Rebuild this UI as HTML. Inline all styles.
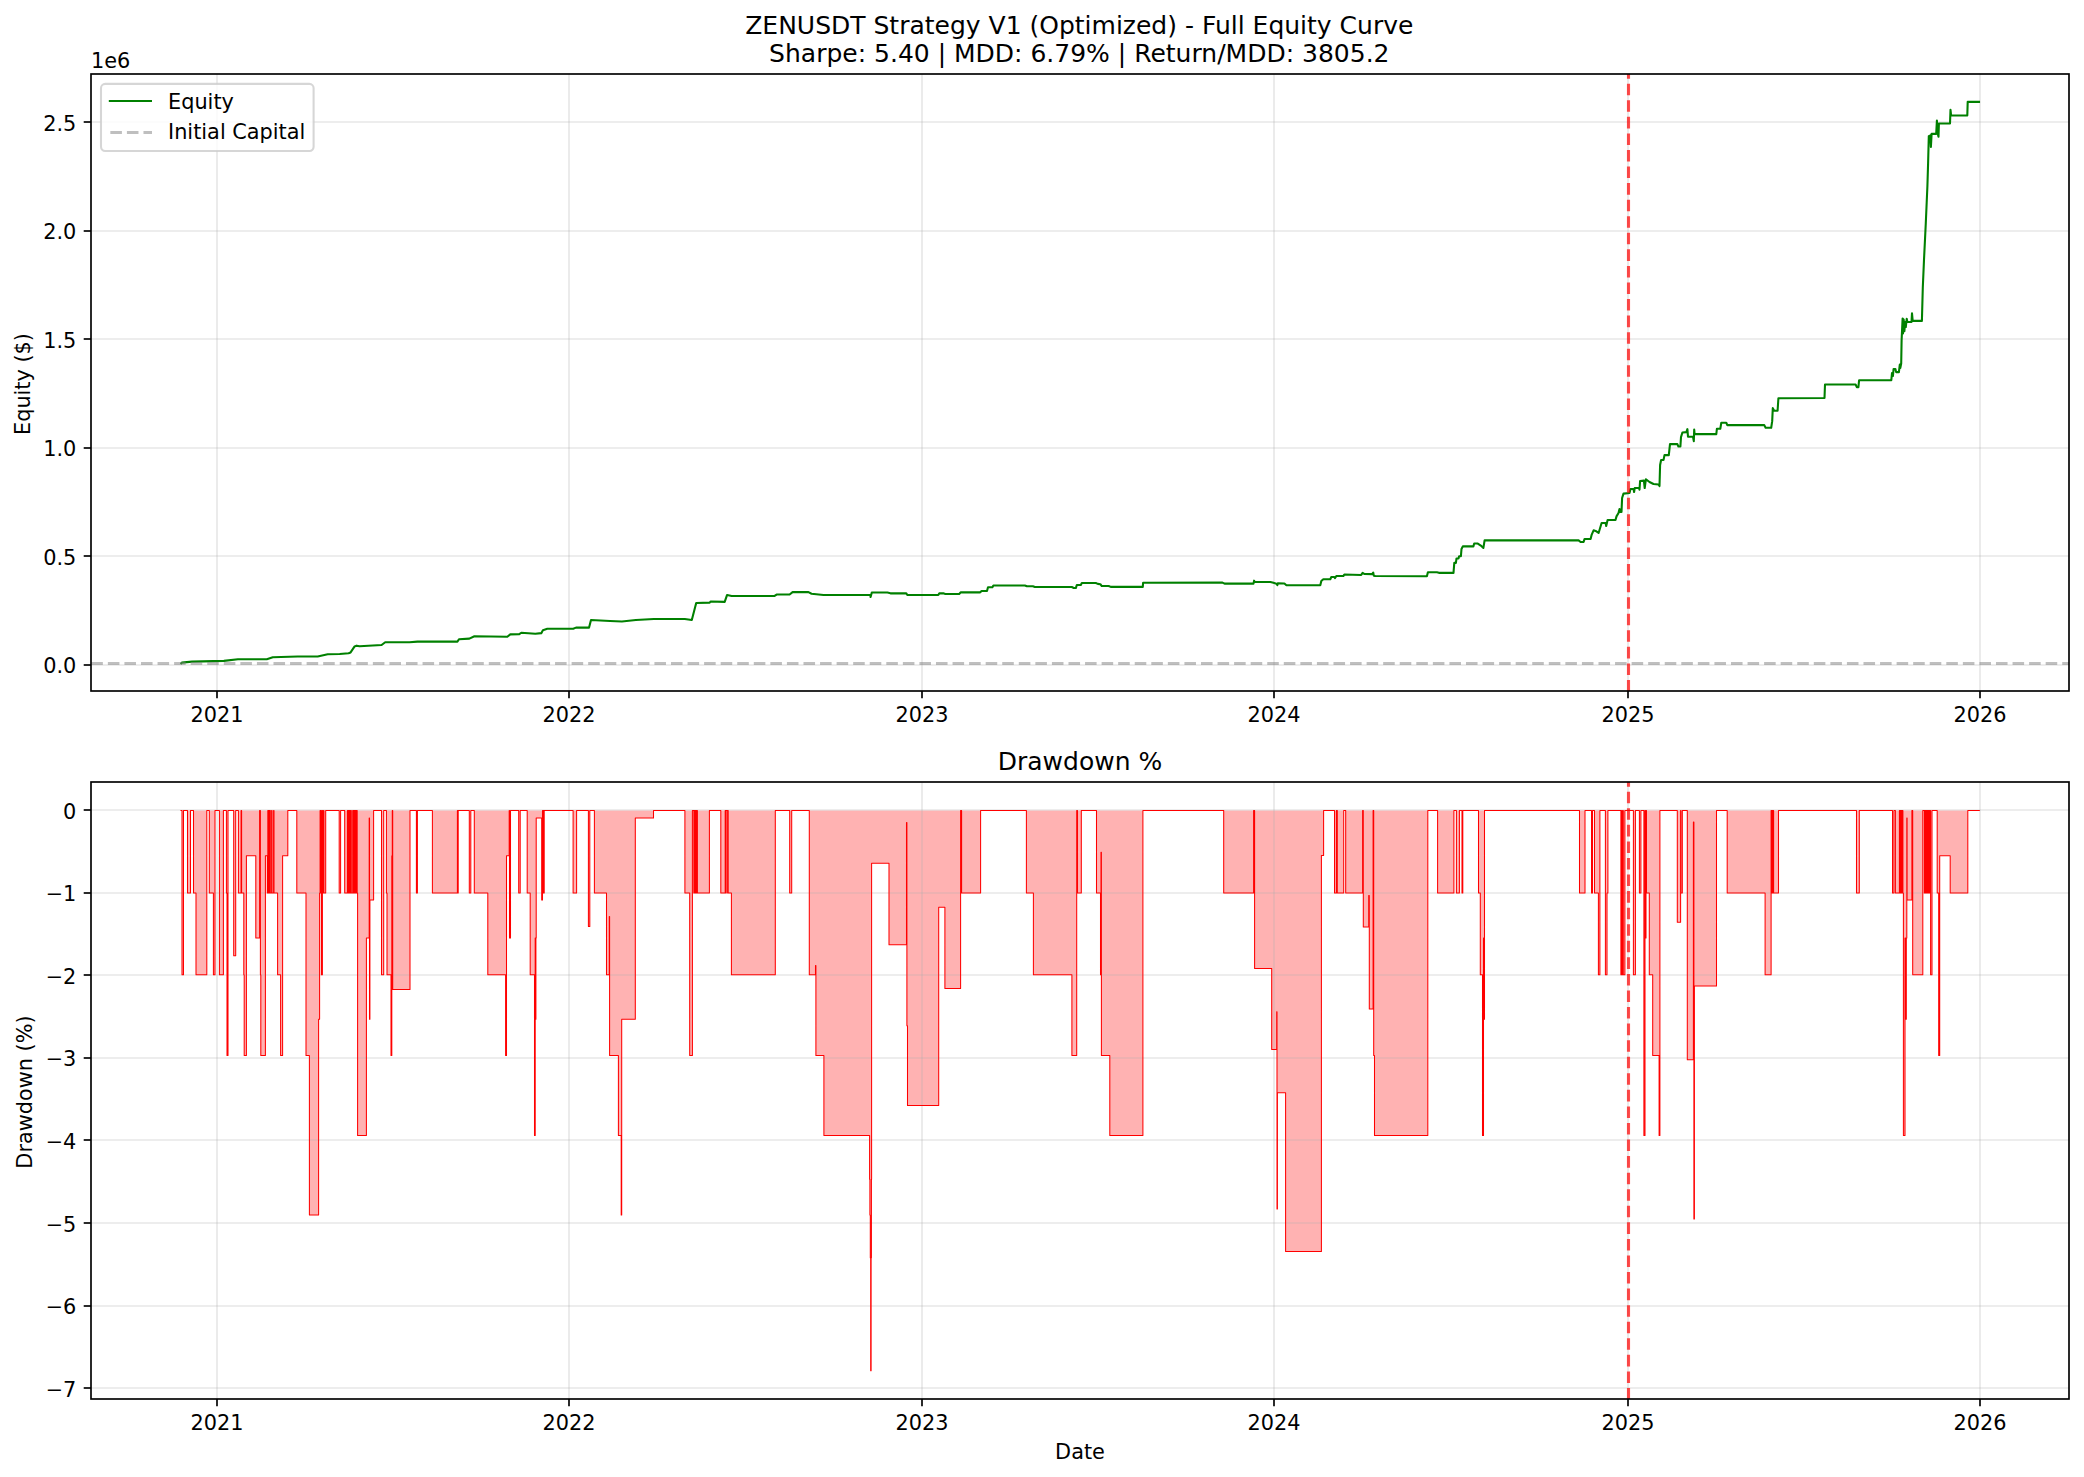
<!DOCTYPE html>
<html lang="en"><head><meta charset="utf-8"><title>ZENUSDT Strategy V1 (Optimized) - Full Equity Curve</title>
<style>html,body{margin:0;padding:0;background:#fff}svg{display:block}text{font-family:"DejaVu Sans","Liberation Sans",sans-serif;fill:#000}.t{font-size:20.833px}.T{font-size:25.000px}.g{stroke:#b0b0b0;stroke-opacity:.3;stroke-width:1.667}.k{stroke:#000;stroke-width:1.667}.m{text-anchor:middle}.e{text-anchor:end}</style></head><body>
<svg width="2084" height="1477" viewBox="0 0 2084 1477">
<rect width="2084" height="1477" fill="#fff"/>
<defs><clipPath id="c1"><rect x="91" y="74" width="1978" height="617"/></clipPath><clipPath id="c2"><rect x="91" y="782" width="1978" height="617"/></clipPath></defs>
<g id="ax1">
<line class="g" x1="217" y1="691" x2="217" y2="74"/>
<line class="g" x1="569" y1="691" x2="569" y2="74"/>
<line class="g" x1="922" y1="691" x2="922" y2="74"/>
<line class="g" x1="1274" y1="691" x2="1274" y2="74"/>
<line class="g" x1="1628" y1="691" x2="1628" y2="74"/>
<line class="g" x1="1980" y1="691" x2="1980" y2="74"/>
<line class="g" x1="91" y1="665" x2="2069" y2="665"/>
<line class="g" x1="91" y1="556" x2="2069" y2="556"/>
<line class="g" x1="91" y1="448" x2="2069" y2="448"/>
<line class="g" x1="91" y1="339" x2="2069" y2="339"/>
<line class="g" x1="91" y1="231" x2="2069" y2="231"/>
<line class="g" x1="91" y1="122" x2="2069" y2="122"/>
<g clip-path="url(#c1)">
<polyline fill="none" stroke="#008000" stroke-width="2.083" stroke-linejoin="round" stroke-linecap="square" points="181.3,663.25 181.8,662.65 192.0,661.65 223.9,660.85 237.9,659.25 266.8,659.25 272.8,657.25 297.7,656.45 317.7,656.45 327.7,654.25 339.7,654.05 348.6,653.25 350.6,652.45 354.6,646.45 356.6,645.65 359.6,646.25 381.6,645.05 385.2,642.25 409.5,642.25 417.5,641.65 457.4,641.65 459.0,639.25 469.4,638.65 474.4,636.25 507.3,636.75 510.3,634.35 519.3,634.15 521.3,632.75 535.3,633.75 541.3,633.15 542.9,630.15 547.3,628.75 573.2,628.75 576.0,627.65 589.0,627.65 591.0,620.05 610.0,621.05 621.9,621.45 635.9,620.05 653.8,619.05 684.8,619.05 691.8,620.05 696.2,603.05 709.7,602.65 710.7,601.45 724.7,601.85 727.1,594.95 731.7,595.95 774.6,595.95 776.6,594.55 789.6,594.55 792.6,592.15 808.5,592.15 811.5,593.75 823.5,594.95 870.4,594.95 870.6,597.05 871.8,592.55 887.4,592.55 890.4,593.35 906.3,593.35 907.3,594.95 938.3,594.95 939.3,593.35 943.3,593.35 945.3,593.95 959.2,593.95 960.8,592.35 980.2,592.35 981.6,590.95 987.0,591.05 988.0,587.25 992.4,587.25 993.4,585.45 1024.9,585.45 1026.9,586.25 1032.9,586.25 1034.9,587.05 1071.8,587.05 1073.8,588.05 1075.8,588.05 1076.8,585.05 1080.8,585.05 1081.8,583.05 1095.8,583.05 1097.8,583.85 1100.4,584.25 1101.8,586.05 1108.7,586.05 1110.7,586.85 1142.8,586.85 1143.1,582.75 1222.5,582.65 1224.5,583.65 1253.5,583.65 1254.1,580.65 1254.7,582.05 1270.4,582.05 1273.4,582.85 1276.4,583.65 1277.4,585.05 1277.8,583.25 1284.4,583.45 1286.4,585.25 1320.3,585.25 1321.3,581.05 1323.3,579.25 1330.3,579.25 1331.3,577.05 1334.3,577.05 1334.9,578.05 1336.3,576.05 1343.3,576.05 1344.3,574.55 1361.2,574.95 1362.6,572.95 1364.2,573.95 1372.2,574.15 1373.2,572.55 1373.8,575.65 1375.2,576.05 1426.9,576.25 1427.9,572.25 1436.9,572.25 1438.9,572.85 1453.5,572.85 1454.3,562.85 1455.9,562.85 1456.5,558.45 1458.5,558.45 1459.1,556.25 1460.9,556.25 1461.5,548.95 1462.9,546.35 1473.4,546.35 1474.2,543.55 1477.8,543.55 1480.8,545.55 1483.4,547.95 1484.6,540.35 1578.6,540.35 1580.6,541.95 1583.6,541.95 1584.6,538.95 1590.6,538.95 1591.6,534.95 1593.6,530.35 1595.6,530.95 1598.6,532.95 1601.6,522.95 1605.6,522.95 1606.2,525.95 1607.6,519.95 1615.5,519.95 1616.5,516.35 1618.5,512.95 1619.5,508.95 1620.1,511.95 1621.5,511.95 1622.1,498.05 1623.5,493.65 1629.5,493.05 1630.5,489.05 1633.5,489.05 1634.1,492.05 1634.7,488.05 1639.1,488.05 1639.5,489.65 1640.1,481.05 1643.9,480.65 1644.7,488.05 1645.9,479.25 1649.5,482.05 1653.5,484.05 1658.5,484.45 1659.5,486.05 1660.1,465.05 1661.1,460.05 1663.5,460.05 1664.5,455.15 1668.8,455.15 1670.0,444.15 1677.4,444.15 1678.4,446.55 1680.4,446.55 1681.0,437.15 1682.4,432.55 1686.4,432.15 1687.4,429.15 1688.0,436.75 1693.0,436.75 1693.8,441.15 1694.2,429.55 1694.6,434.15 1716.3,434.15 1716.9,428.75 1720.3,428.75 1721.3,422.75 1726.3,422.75 1727.3,425.15 1764.3,425.15 1765.6,427.75 1771.2,427.75 1772.2,421.15 1772.8,408.15 1774.2,410.75 1777.6,410.75 1778.4,398.25 1824.5,397.95 1825.0,384.55 1855.6,384.55 1856.8,387.15 1858.4,387.15 1859.1,380.25 1891.3,380.25 1892.0,373.05 1892.9,376.05 1893.6,368.95 1895.4,368.95 1896.1,372.15 1898.9,372.15 1899.8,364.55 1900.3,368.05 1901.2,363.45 1901.6,340.35 1902.6,318.55 1903.0,333.45 1903.7,319.65 1904.4,331.15 1905.1,321.95 1905.8,327.05 1906.7,318.75 1907.4,321.95 1911.5,321.95 1912.0,313.25 1912.7,320.85 1921.9,320.85 1922.8,287.45 1924.0,259.85 1925.8,222.95 1926.7,202.25 1927.4,186.15 1928.1,163.15 1928.8,136.15 1930.4,135.45 1930.9,147.05 1931.6,133.85 1936.2,133.85 1936.9,120.55 1937.8,133.65 1938.5,136.65 1938.9,123.55 1950.0,123.55 1950.5,109.75 1951.1,115.45 1967.3,115.45 1967.7,101.85 1979.0,101.85"/>
<line x1="91.3" y1="663.5" x2="2069" y2="663.5" stroke="#808080" stroke-opacity=".5" stroke-width="3.125" stroke-dasharray="11.5625 5.0000"/>
<line x1="1628.5" y1="691.5" x2="1628.5" y2="74" stroke="#ff0000" stroke-opacity=".7" stroke-width="3.125" stroke-dasharray="11.5625 5.0000"/>
</g>
<line class="k" x1="217" y1="691" x2="217" y2="698.292"/>
<text class="t m" x="217" y="722.00">2021</text>
<line class="k" x1="569" y1="691" x2="569" y2="698.292"/>
<text class="t m" x="569" y="722.00">2022</text>
<line class="k" x1="922" y1="691" x2="922" y2="698.292"/>
<text class="t m" x="922" y="722.00">2023</text>
<line class="k" x1="1274" y1="691" x2="1274" y2="698.292"/>
<text class="t m" x="1274" y="722.00">2024</text>
<line class="k" x1="1628" y1="691" x2="1628" y2="698.292"/>
<text class="t m" x="1628" y="722.00">2025</text>
<line class="k" x1="1980" y1="691" x2="1980" y2="698.292"/>
<text class="t m" x="1980" y="722.00">2026</text>
<line class="k" x1="91" y1="665" x2="83.7083" y2="665"/>
<text class="t e" x="76.38" y="673.00">0.0</text>
<line class="k" x1="91" y1="556" x2="83.7083" y2="556"/>
<text class="t e" x="76.38" y="565.00">0.5</text>
<line class="k" x1="91" y1="448" x2="83.7083" y2="448"/>
<text class="t e" x="76.38" y="456.00">1.0</text>
<line class="k" x1="91" y1="339" x2="83.7083" y2="339"/>
<text class="t e" x="76.38" y="348.00">1.5</text>
<line class="k" x1="91" y1="231" x2="83.7083" y2="231"/>
<text class="t e" x="76.38" y="239.00">2.0</text>
<line class="k" x1="91" y1="122" x2="83.7083" y2="122"/>
<text class="t e" x="76.38" y="131.00">2.5</text>
<rect x="91" y="74" width="1978" height="617" fill="none" stroke="#000" stroke-width="1.667" stroke-linejoin="miter"/>
<text class="t m" transform="translate(29.58 384.00) rotate(-90)">Equity ($)</text>
<text class="t" x="91.00" y="68.00">1e6</text>
<text class="T m" x="1079.30" y="34.00">ZENUSDT Strategy V1 (Optimized) - Full Equity Curve</text>
<text class="T m" x="1079.30" y="62.00">Sharpe: 5.40 | MDD: 6.79% | Return/MDD: 3805.2</text>
<rect x="101.00" y="83.90" width="212.60" height="67.10" rx="4.17" fill="#fff" fill-opacity=".8" stroke="#ccc" stroke-opacity=".8" stroke-width="2.083"/>
<line x1="109.85" y1="101.00" x2="150.95" y2="101.00" stroke="#008000" stroke-width="2.083" stroke-linecap="square"/>
<line x1="110.35" y1="132.50" x2="152.00" y2="132.50" stroke="#808080" stroke-opacity=".5" stroke-width="3.125" stroke-dasharray="11.5625 5.0000"/>
<text class="t" x="168.04" y="109.00">Equity</text>
<text class="t" x="168.04" y="139.00">Initial Capital</text>
</g>
<g id="ax2">
<g clip-path="url(#c2)">
<path d="M181.0,810.5H182.0V974.7H183.5V810.5H187.5V893.0H190.5V810.5H193.5V893.0H196.0V974.7H206.8V810.5H209.3V893.0H213.4V974.7H215.0V810.5H219.4V974.7H223.4V810.5H226.4V893.0H227.0V1055.5H228.0V810.5H233.7V955.7H235.7V810.5H238.4V893.0H241.1V810.5H241.6V893.0H243.8V974.7H244.2V1055.5H246.4V855.8H255.8V938.0H259.6V810.5H260.4V974.7H260.8V1055.5H265.4V855.8H267.3V893.0H267.8V810.5H268.3V893.0H268.8V810.5H269.3V893.0H269.8V810.5H270.3V893.0H270.8H271.6V810.5H272.0V893.0H273.6V810.5H274.0V893.0H277.6V974.7H280.6V1055.5H282.6V855.8H287.8V810.5H296.8V893.0H306.0V1055.5H309.4V1214.9H318.6V1019.2H319.6V893.0H320.1V810.5H320.6V893.0H321.1V810.5H321.4V974.7H322.4V810.5H322.8V893.0H323.5V810.5H323.9V893.0H325.7V810.5H339.2V893.0H340.6V810.5H344.7V893.0H346.9H347.4V810.5H347.9V893.0H348.4V810.5H348.9V893.0H349.4V810.5H349.9V893.0H350.4V810.5H350.6V893.0H351.0V810.5H351.3V893.0H352.2H352.7V810.5H353.2V893.0H353.7V810.5H354.2V893.0H354.7V810.5H355.2V893.0H355.7V810.5H356.2V893.0H356.7V810.5H357.2V893.0H357.6V1135.6H366.4V938.0H369.2V817.9H369.5V1019.2H369.9V900.1H373.6V810.5H381.5V974.7H383.7V810.5H386.4V893.0H387.0V974.7H391.0V1055.5H391.8V855.8H392.3V810.5H392.7V989.5H410.0V810.5H416.4V893.0H417.4V810.5H432.4V893.0H457.4V810.5H457.8V893.0H458.2V810.5H469.3V893.0H470.8V810.5H474.3V893.0H487.8V974.7H505.6V1055.5H506.5V855.8H509.2V810.5H509.5V938.0H510.5V810.5H518.7V893.0H520.2V810.5H527.2V893.0H530.2V974.7H534.5V1135.6H535.2V938.0H535.5V1019.2H535.9V938.0H536.2V817.9H541.7V900.1H542.5V810.5H542.9V893.0H543.3V810.5H543.7V893.0H544.2V810.5H573.1V893.0H576.6V810.5H588.4V926.4H589.8V810.5H594.4V893.0H606.5V974.7H609.3V916.5H609.6V1055.5H618.4V1135.6H621.2V1214.9H621.7V1019.2H635.3V817.9H653.5V810.5H684.9V893.0H689.7V1055.5H692.4V810.5H693.8V893.0H694.3V810.5H694.8V893.0H695.3V810.5H695.8V893.0H696.3V810.5H696.8V893.0H697.3V810.5H697.4V893.0H709.4V810.5H720.8V893.0H725.2V810.5H725.8V893.0H726.2V810.5H727.6V893.0H728.0V810.5H728.2V893.0H731.4V974.7H775.3V810.5H789.7V893.0H791.7V810.5H809.3V974.7H815.5V965.6H815.9V1055.5H823.9V1135.6H869.6V1179.3H869.9V1214.9H870.3V1257.7H870.7V1370.8H871.1V1257.7H871.4V1179.3H871.6V863.3H889.0V944.7H906.5V822.4H906.9V1025.8H907.5V1105.5H938.7V907.2H944.9V988.6H960.6V810.5H961.6V893.0H980.6V810.5H1026.4V893.0H1033.4V974.7H1071.9V1055.5H1076.7V810.5H1077.5V893.0H1081.3V810.5H1096.5V893.0H1100.5V974.7H1101.0V852.3H1101.4V1055.5H1109.8V1135.6H1142.9V810.5H1223.7V893.0H1253.6V810.5H1254.6V968.5H1271.7V1049.4H1276.7V1011.8H1277.0V1209.0H1277.4V1092.7H1285.6V1251.5H1321.4V855.4H1323.6V810.5H1334.5V893.0H1336.4V810.5H1337.3V893.0H1343.7V810.5H1345.7V893.0H1362.6V810.5H1363.3V927.1H1368.7V895.4H1369.3V1008.9H1373.1V810.5H1373.7V1055.5H1374.5V1135.6H1427.8V810.5H1437.6V893.0H1453.9V810.5H1456.4V893.0H1459.4V810.5H1462.0V893.0H1462.8V810.5H1478.5V893.0H1480.3V974.7H1482.5V1135.6H1483.5V938.0H1484.0V1019.2H1484.5V810.5H1579.5V893.0H1585.0V810.5H1591.5V893.0H1592.5V810.5H1594.5V893.0H1598.4V974.7H1599.9V810.5H1605.4V974.7H1607.0V893.0H1607.9V810.5H1620.9V974.7H1621.7V810.5H1622.1V974.7H1622.9V810.5H1623.3V974.7H1624.9V810.5H1633.4V974.7H1635.4V810.5H1639.4V893.0H1640.9V810.5H1643.9V1135.6H1645.0V810.5H1645.4V938.0H1646.0V810.5H1646.5V893.0H1649.3V974.7H1652.7V1055.5H1659.1V1135.6H1659.9V810.5H1677.3V922.2H1680.6V810.5H1680.9V893.0H1682.3V810.5H1687.3V1059.7H1693.4V822.0H1693.9V1218.9H1694.4V986.0H1716.5V810.5H1727.2V893.0H1765.1V974.7H1771.1V810.5H1771.7V893.0H1772.2V810.5H1772.8V893.0H1773.2V810.5H1773.6V893.0H1778.5V810.5H1856.5V893.0H1859.3V810.5H1892.5V893.0H1894.0V810.5H1895.4V893.0H1898.9H1899.4V810.5H1899.9V893.0H1900.4V810.5H1900.9V893.0H1901.4V810.5H1901.9V893.0H1902.4V810.5H1902.9V893.0H1903.4V1135.6H1905.0V938.0H1905.6V1019.2H1906.3V938.0H1906.8V817.9H1907.1V900.1H1911.9V810.5H1912.7V974.7H1922.8V810.5H1924.3V893.0H1924.8V810.5H1925.3V893.0H1925.8V810.5H1926.3V893.0H1926.8V810.5H1927.3V893.0H1927.8V810.5H1928.3V893.0H1928.8V810.5H1929.3V893.0H1929.6V810.5H1930.6V974.7H1932.0V810.5H1937.2V893.0H1938.7V1055.5H1939.7V855.8H1950.2V893.0H1967.8V810.5H1979.3V810.5H181.0Z" fill="#ff0000" fill-opacity=".3" stroke="none"/>
</g>
<line class="g" x1="217" y1="1399" x2="217" y2="782"/>
<line class="g" x1="569" y1="1399" x2="569" y2="782"/>
<line class="g" x1="922" y1="1399" x2="922" y2="782"/>
<line class="g" x1="1274" y1="1399" x2="1274" y2="782"/>
<line class="g" x1="1628" y1="1399" x2="1628" y2="782"/>
<line class="g" x1="1980" y1="1399" x2="1980" y2="782"/>
<line class="g" x1="91" y1="810" x2="2069" y2="810"/>
<line class="g" x1="91" y1="893" x2="2069" y2="893"/>
<line class="g" x1="91" y1="975" x2="2069" y2="975"/>
<line class="g" x1="91" y1="1058" x2="2069" y2="1058"/>
<line class="g" x1="91" y1="1140" x2="2069" y2="1140"/>
<line class="g" x1="91" y1="1223" x2="2069" y2="1223"/>
<line class="g" x1="91" y1="1306" x2="2069" y2="1306"/>
<line class="g" x1="91" y1="1388" x2="2069" y2="1388"/>
<g clip-path="url(#c2)">
<path d="M181.0,810.5H182.0V974.7H183.5V810.5H187.5V893.0H190.5V810.5H193.5V893.0H196.0V974.7H206.8V810.5H209.3V893.0H213.4V974.7H215.0V810.5H219.4V974.7H223.4V810.5H226.4V893.0H227.0V1055.5H228.0V810.5H233.7V955.7H235.7V810.5H238.4V893.0H241.1V810.5H241.6V893.0H243.8V974.7H244.2V1055.5H246.4V855.8H255.8V938.0H259.6V810.5H260.4V974.7H260.8V1055.5H265.4V855.8H267.3V893.0H267.8V810.5H268.3V893.0H268.8V810.5H269.3V893.0H269.8V810.5H270.3V893.0H270.8H271.6V810.5H272.0V893.0H273.6V810.5H274.0V893.0H277.6V974.7H280.6V1055.5H282.6V855.8H287.8V810.5H296.8V893.0H306.0V1055.5H309.4V1214.9H318.6V1019.2H319.6V893.0H320.1V810.5H320.6V893.0H321.1V810.5H321.4V974.7H322.4V810.5H322.8V893.0H323.5V810.5H323.9V893.0H325.7V810.5H339.2V893.0H340.6V810.5H344.7V893.0H346.9H347.4V810.5H347.9V893.0H348.4V810.5H348.9V893.0H349.4V810.5H349.9V893.0H350.4V810.5H350.6V893.0H351.0V810.5H351.3V893.0H352.2H352.7V810.5H353.2V893.0H353.7V810.5H354.2V893.0H354.7V810.5H355.2V893.0H355.7V810.5H356.2V893.0H356.7V810.5H357.2V893.0H357.6V1135.6H366.4V938.0H369.2V817.9H369.5V1019.2H369.9V900.1H373.6V810.5H381.5V974.7H383.7V810.5H386.4V893.0H387.0V974.7H391.0V1055.5H391.8V855.8H392.3V810.5H392.7V989.5H410.0V810.5H416.4V893.0H417.4V810.5H432.4V893.0H457.4V810.5H457.8V893.0H458.2V810.5H469.3V893.0H470.8V810.5H474.3V893.0H487.8V974.7H505.6V1055.5H506.5V855.8H509.2V810.5H509.5V938.0H510.5V810.5H518.7V893.0H520.2V810.5H527.2V893.0H530.2V974.7H534.5V1135.6H535.2V938.0H535.5V1019.2H535.9V938.0H536.2V817.9H541.7V900.1H542.5V810.5H542.9V893.0H543.3V810.5H543.7V893.0H544.2V810.5H573.1V893.0H576.6V810.5H588.4V926.4H589.8V810.5H594.4V893.0H606.5V974.7H609.3V916.5H609.6V1055.5H618.4V1135.6H621.2V1214.9H621.7V1019.2H635.3V817.9H653.5V810.5H684.9V893.0H689.7V1055.5H692.4V810.5H693.8V893.0H694.3V810.5H694.8V893.0H695.3V810.5H695.8V893.0H696.3V810.5H696.8V893.0H697.3V810.5H697.4V893.0H709.4V810.5H720.8V893.0H725.2V810.5H725.8V893.0H726.2V810.5H727.6V893.0H728.0V810.5H728.2V893.0H731.4V974.7H775.3V810.5H789.7V893.0H791.7V810.5H809.3V974.7H815.5V965.6H815.9V1055.5H823.9V1135.6H869.6V1179.3H869.9V1214.9H870.3V1257.7H870.7V1370.8H871.1V1257.7H871.4V1179.3H871.6V863.3H889.0V944.7H906.5V822.4H906.9V1025.8H907.5V1105.5H938.7V907.2H944.9V988.6H960.6V810.5H961.6V893.0H980.6V810.5H1026.4V893.0H1033.4V974.7H1071.9V1055.5H1076.7V810.5H1077.5V893.0H1081.3V810.5H1096.5V893.0H1100.5V974.7H1101.0V852.3H1101.4V1055.5H1109.8V1135.6H1142.9V810.5H1223.7V893.0H1253.6V810.5H1254.6V968.5H1271.7V1049.4H1276.7V1011.8H1277.0V1209.0H1277.4V1092.7H1285.6V1251.5H1321.4V855.4H1323.6V810.5H1334.5V893.0H1336.4V810.5H1337.3V893.0H1343.7V810.5H1345.7V893.0H1362.6V810.5H1363.3V927.1H1368.7V895.4H1369.3V1008.9H1373.1V810.5H1373.7V1055.5H1374.5V1135.6H1427.8V810.5H1437.6V893.0H1453.9V810.5H1456.4V893.0H1459.4V810.5H1462.0V893.0H1462.8V810.5H1478.5V893.0H1480.3V974.7H1482.5V1135.6H1483.5V938.0H1484.0V1019.2H1484.5V810.5H1579.5V893.0H1585.0V810.5H1591.5V893.0H1592.5V810.5H1594.5V893.0H1598.4V974.7H1599.9V810.5H1605.4V974.7H1607.0V893.0H1607.9V810.5H1620.9V974.7H1621.7V810.5H1622.1V974.7H1622.9V810.5H1623.3V974.7H1624.9V810.5H1633.4V974.7H1635.4V810.5H1639.4V893.0H1640.9V810.5H1643.9V1135.6H1645.0V810.5H1645.4V938.0H1646.0V810.5H1646.5V893.0H1649.3V974.7H1652.7V1055.5H1659.1V1135.6H1659.9V810.5H1677.3V922.2H1680.6V810.5H1680.9V893.0H1682.3V810.5H1687.3V1059.7H1693.4V822.0H1693.9V1218.9H1694.4V986.0H1716.5V810.5H1727.2V893.0H1765.1V974.7H1771.1V810.5H1771.7V893.0H1772.2V810.5H1772.8V893.0H1773.2V810.5H1773.6V893.0H1778.5V810.5H1856.5V893.0H1859.3V810.5H1892.5V893.0H1894.0V810.5H1895.4V893.0H1898.9H1899.4V810.5H1899.9V893.0H1900.4V810.5H1900.9V893.0H1901.4V810.5H1901.9V893.0H1902.4V810.5H1902.9V893.0H1903.4V1135.6H1905.0V938.0H1905.6V1019.2H1906.3V938.0H1906.8V817.9H1907.1V900.1H1911.9V810.5H1912.7V974.7H1922.8V810.5H1924.3V893.0H1924.8V810.5H1925.3V893.0H1925.8V810.5H1926.3V893.0H1926.8V810.5H1927.3V893.0H1927.8V810.5H1928.3V893.0H1928.8V810.5H1929.3V893.0H1929.6V810.5H1930.6V974.7H1932.0V810.5H1937.2V893.0H1938.7V1055.5H1939.7V855.8H1950.2V893.0H1967.8V810.5H1979.3" fill="none" stroke="#ff0000" stroke-width="1.042" stroke-linejoin="round" stroke-linecap="square"/>
<line x1="1628.5" y1="1399.5" x2="1628.5" y2="782" stroke="#ff0000" stroke-opacity=".7" stroke-width="3.125" stroke-dasharray="11.5625 5.0000"/>
</g>
<line class="k" x1="217" y1="1399" x2="217" y2="1406.29"/>
<text class="t m" x="217" y="1430.00">2021</text>
<line class="k" x1="569" y1="1399" x2="569" y2="1406.29"/>
<text class="t m" x="569" y="1430.00">2022</text>
<line class="k" x1="922" y1="1399" x2="922" y2="1406.29"/>
<text class="t m" x="922" y="1430.00">2023</text>
<line class="k" x1="1274" y1="1399" x2="1274" y2="1406.29"/>
<text class="t m" x="1274" y="1430.00">2024</text>
<line class="k" x1="1628" y1="1399" x2="1628" y2="1406.29"/>
<text class="t m" x="1628" y="1430.00">2025</text>
<line class="k" x1="1980" y1="1399" x2="1980" y2="1406.29"/>
<text class="t m" x="1980" y="1430.00">2026</text>
<line class="k" x1="91" y1="810" x2="83.7083" y2="810"/>
<text class="t e" x="76.38" y="819.00">0</text>
<line class="k" x1="91" y1="893" x2="83.7083" y2="893"/>
<text class="t e" x="76.38" y="901.00">−1</text>
<line class="k" x1="91" y1="975" x2="83.7083" y2="975"/>
<text class="t e" x="76.38" y="984.00">−2</text>
<line class="k" x1="91" y1="1058" x2="83.7083" y2="1058"/>
<text class="t e" x="76.38" y="1066.00">−3</text>
<line class="k" x1="91" y1="1140" x2="83.7083" y2="1140"/>
<text class="t e" x="76.38" y="1149.00">−4</text>
<line class="k" x1="91" y1="1223" x2="83.7083" y2="1223"/>
<text class="t e" x="76.38" y="1232.00">−5</text>
<line class="k" x1="91" y1="1306" x2="83.7083" y2="1306"/>
<text class="t e" x="76.38" y="1314.00">−6</text>
<line class="k" x1="91" y1="1388" x2="83.7083" y2="1388"/>
<text class="t e" x="76.38" y="1397.00">−7</text>
<rect x="91" y="782" width="1978" height="617" fill="none" stroke="#000" stroke-width="1.667" stroke-linejoin="miter"/>
<text class="t m" transform="translate(32.00 1092.00) rotate(-90)">Drawdown (%)</text>
<text class="t m" x="1080.00" y="1459.00">Date</text>
<text class="T m" x="1080.00" y="770.00">Drawdown %</text>
</g>
</svg></body></html>
